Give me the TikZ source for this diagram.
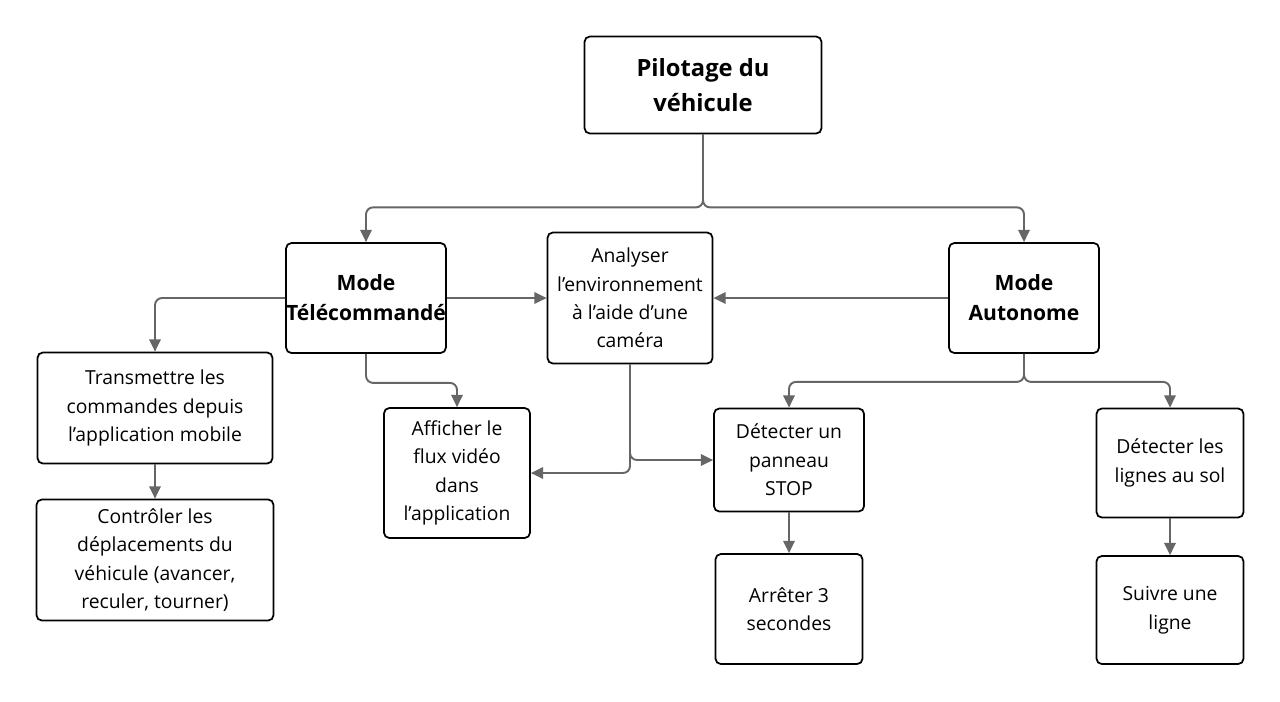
\documentclass[tikz,border=0pt]{standalone}
\usepackage{fontspec}
\setmainfont{Open Sans}
\usepackage{tikz}
\usetikzlibrary{arrows.meta,positioning,calc}

\begin{document}
\begin{tikzpicture}[x=0.02cm, y=-0.02cm,
  every node/.style={font=\fontsize{11}{16.2}\selectfont},
  box/.style={draw=black, line width=1pt, rounded corners=3pt, fill=white, align=center, inner sep=0pt},
  head/.style={box, font=\fontsize{12}{17}\selectfont\bfseries},
  link/.style={draw=black!60, line width=1.1pt, rounded corners=4pt, -{Triangle[length=7pt,width=6.5pt]}}]
  \useasboundingbox[fill=white] (0,0) rectangle (1280,701);

  % Root
  \node[head, font=\fontsize{13.5}{20}\selectfont\bfseries, minimum width=4.74cm, minimum height=1.94cm] (pilot) at (703,85) {Pilotage du\\v\'ehicule};

  % Modes
  \node[head, minimum width=2.98cm, minimum height=2.2cm] (tele) at (366,298) {Mode\\T\'el\'ecommand\'e};
  \node[box, minimum width=3.3cm, minimum height=2.62cm] (analyse) at (630,298) {Analyser\\l'environnement\\\`a l'aide d'une\\cam\'era};
  \node[head, minimum width=3cm, minimum height=2.2cm] (auto) at (1024,298) {Mode\\Autonome};

  % Remote branch
  \node[box, minimum width=4.7cm, minimum height=2.22cm] (trans) at (155,408) {Transmettre les\\commandes depuis\\l'application mobile};
  \node[box, minimum width=4.74cm, minimum height=2.42cm] (ctrl) at (155,560) {Contr\^oler les\\d\'eplacements du\\v\'ehicule (avancer,\\reculer, tourner)};
  \node[box, minimum width=2.92cm, minimum height=2.6cm] (affich) at (457,473) {Afficher le\\flux vid\'eo\\dans\\l'application};

  % Autonomous branch
  \node[box, minimum width=3cm, minimum height=2.06cm] (stop) at (789,460) {D\'etecter un\\panneau\\STOP};
  \node[box, minimum width=2.94cm, minimum height=2.2cm] (arret) at (789,609) {Arr\^eter 3\\secondes};
  \node[box, minimum width=2.94cm, minimum height=2.18cm] (lignes) at (1170,463) {D\'etecter les\\lignes au sol};
  \node[box, minimum width=2.94cm, minimum height=2.16cm] (suivre) at (1170,610) {Suivre une\\ligne};

  % Connectors
  \draw[link] (pilot.south) -- ++(0,73) -| (tele.north);
  \draw[link] (pilot.south) -- ++(0,73) -| (auto.north);
  \draw[link] (tele.west) -| (trans.north);
  \draw[link] (tele.east) -- (analyse.west);
  \draw[link] (auto.west) -- (analyse.east);
  \draw[link] (tele.south) -- ++(0,29) -| (affich.north);
  \draw[link] (analyse.south) |- (affich.east);
  \draw[link] (analyse.south) |- (stop.west);
  \draw[link] (trans.south) -- (ctrl.north);
  \draw[link] (auto.south) -- ++(0,28) -| (stop.north);
  \draw[link] (auto.south) -- ++(0,28) -| (lignes.north);
  \draw[link] (stop.south) -- (arret.north);
  \draw[link] (lignes.south) -- (suivre.north);
\end{tikzpicture}
\end{document}
